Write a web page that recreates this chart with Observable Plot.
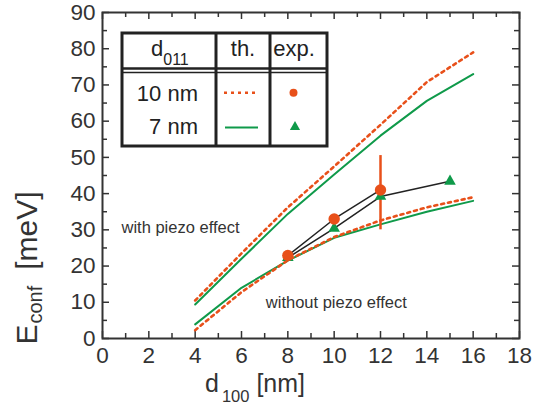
<!DOCTYPE html>
<html><head><meta charset="utf-8">
<script src="https://cdn.jsdelivr.net/npm/d3@7"></script>
<script src="https://cdn.jsdelivr.net/npm/@observablehq/plot@0.6"></script>
<style>
body{margin:0;background:#fff;}
#wrap{position:relative;width:553px;height:407px;font-family:"Liberation Sans",Arial,sans-serif;}
#legend{position:absolute;left:0;top:0;pointer-events:none;}
</style></head><body><div id="wrap"></div>
<script>
// ---- data ----
const dTheory = [4, 6, 8, 10, 12, 14, 16];
const withPiezo10nm = [10.5, 23.5, 36.2, 47.5, 59, 70.8, 79];
const withPiezo7nm  = [9.4, 22, 34.4, 45.3, 56, 65.6, 73];
const noPiezo10nm   = [2.3, 12.8, 21.6, 28, 32.6, 36.2, 39];
const noPiezo7nm    = [3.9, 14, 21.5, 27.8, 31.5, 35, 38];

const expD10nm = [8, 10, 12];
const expE10nm = [22.9, 33.0, 41.0];
const errD = [12];
const errLow = [30];
const errHigh = [50.5];

const expD7nm = [8, 10, 12, 15];
const expE7nm = [22.3, 30.4, 39.2, 43.4];

const xMajorTicks = [0, 2, 4, 6, 8, 10, 12, 14, 16, 18];
const xMinorTicks = [1, 3, 5, 7, 9, 11, 13, 15, 17];
const yMajorTicks = [0, 10, 20, 30, 40, 50, 60, 70, 80, 90];
const yMinorTicks = [5, 15, 25, 35, 45, 55, 65, 75, 85];

const annotationText = ["with piezo effect", "without piezo effect"];
const annotationD = [0.82, 7.05];
const annotationE = [30.6, 9.75];

// ---- build tables ----
const pts = (xs, ys) => xs.map((x, i) => ({x, y: ys[i]}));
const upper10 = pts(dTheory, withPiezo10nm);
const upper7 = pts(dTheory, withPiezo7nm);
const lower10 = pts(dTheory, noPiezo10nm);
const lower7 = pts(dTheory, noPiezo7nm);
const exp10 = pts(expD10nm, expE10nm);
const exp7 = pts(expD7nm, expE7nm);
const errs = errD.map((x, i) => ({x, y1: errLow[i], y2: errHigh[i]}));
const notes = annotationText.map((t, i) => ({t, x: annotationD[i], y: annotationE[i]}));

const ORANGE = "#e8501a";
const GREEN = "#0f9a4a";
const INK = "#333";
const FONT = "Liberation Sans, Arial, Helvetica, sans-serif";

const W = 553, H = 407, mL = 102, mR = 34, mT = 12, mB = 69;
const iw = W - mL - mR, ih = H - mT - mB;

const chart = Plot.plot({
  width: W, height: H,
  marginLeft: mL, marginRight: mR, marginTop: mT, marginBottom: mB,
  style: {fontFamily: FONT, background: "#fff", color: INK, overflow: "visible"},
  x: {domain: [0, 18]},
  y: {domain: [0, 90]},
  marks: [
    Plot.axisX(xMajorTicks, {tickSize: 0, tickPadding: 9, fontSize: 22.5, fill: INK, label: null}),
    Plot.axisY(yMajorTicks, {tickSize: 0, tickPadding: 7, fontSize: 22.5, fill: INK, label: null}),
    // inward ticks: bottom / top
    Plot.tickX(xMajorTicks, {x: d => d, insetTop: ih - 7, stroke: INK, strokeWidth: 1.5}),
    Plot.tickX(xMinorTicks, {x: d => d, insetTop: ih - 5, stroke: INK, strokeWidth: 1.5}),
    Plot.tickX(xMajorTicks, {x: d => d, insetBottom: ih - 7, stroke: INK, strokeWidth: 1.5}),
    Plot.tickX(xMinorTicks, {x: d => d, insetBottom: ih - 5, stroke: INK, strokeWidth: 1.5}),
    // inward ticks: left / right
    Plot.tickY(yMajorTicks, {y: d => d, insetRight: iw - 7, stroke: INK, strokeWidth: 1.5}),
    Plot.tickY(yMinorTicks, {y: d => d, insetRight: iw - 5, stroke: INK, strokeWidth: 1.5}),
    Plot.tickY(yMajorTicks, {y: d => d, insetLeft: iw - 7, stroke: INK, strokeWidth: 1.5}),
    Plot.tickY(yMinorTicks, {y: d => d, insetLeft: iw - 5, stroke: INK, strokeWidth: 1.5}),
    Plot.frame({stroke: INK, strokeWidth: 2}),
    // theory curves
    Plot.line(upper7, {x: "x", y: "y", stroke: GREEN, strokeWidth: 2}),
    Plot.line(lower7, {x: "x", y: "y", stroke: GREEN, strokeWidth: 2}),
    Plot.line(upper10, {x: "x", y: "y", stroke: ORANGE, strokeWidth: 2.6, strokeDasharray: "3,4"}),
    Plot.line(lower10, {x: "x", y: "y", stroke: ORANGE, strokeWidth: 2.6, strokeDasharray: "3,4"}),
    // experiment
    Plot.line(exp7, {x: "x", y: "y", stroke: "#222", strokeWidth: 1.5}),
    Plot.line(exp10, {x: "x", y: "y", stroke: "#222", strokeWidth: 1.5}),
    Plot.ruleX(errs, {x: "x", y1: "y1", y2: "y2", stroke: ORANGE, strokeWidth: 2.5}),
    Plot.dot(exp7, {x: "x", y: "y", symbol: "triangle", r: 4.3, fill: GREEN, stroke: "none"}),
    Plot.dot(exp10, {x: "x", y: "y", r: 5.7, fill: ORANGE, stroke: "none"}),
    // annotations
    Plot.text(notes, {x: "x", y: "y", text: "t", textAnchor: "start", fontSize: 16.5, fill: INK})
  ]
});

document.getElementById("wrap").appendChild(chart);

// axis titles
const svg = d3.select(chart);
const yl = svg.append("text")
  .attr("transform", "translate(37,268) rotate(-90)")
  .attr("fill", INK).attr("font-size", 30).attr("font-family", FONT);
yl.append("tspan").text("E");
yl.append("tspan").attr("font-size", 20).attr("dy", 5).attr("dx", 1).text("conf");
yl.append("tspan").attr("dy", -5).attr("dx", 16).text("[meV]");

const xl = svg.append("text")
  .attr("x", 255).attr("y", 392)
  .attr("fill", INK).attr("font-size", 25).attr("font-family", FONT);
xl.append("tspan").text("d");
xl.append("tspan").attr("font-size", 16.5).attr("dy", 10).attr("dx", 3).text("100");
xl.append("tspan").attr("dy", -10).attr("dx", 7).text("[nm]");

// legend table (overlay)
const lg = d3.select("#wrap").append("svg").attr("id", "legend")
  .attr("width", W).attr("height", H).attr("font-family", FONT);
const LX = 122, LY = 33, LW = 205, LH = 113, C1 = 216, C2 = 270;
lg.append("rect").attr("x", LX).attr("y", LY).attr("width", LW).attr("height", LH)
  .attr("fill", "#fff").attr("stroke", "#222").attr("stroke-width", 3);
[C1, C2].forEach(cx => lg.append("line").attr("x1", cx).attr("x2", cx).attr("y1", LY).attr("y2", LY + LH)
  .attr("stroke", "#222").attr("stroke-width", 3));
lg.append("line").attr("x1", LX).attr("x2", LX + LW).attr("y1", 68.5).attr("y2", 68.5)
  .attr("stroke", "#222").attr("stroke-width", 2.5);
lg.append("line").attr("x1", LX).attr("x2", LX + LW).attr("y1", 72.5).attr("y2", 72.5)
  .attr("stroke", "#222").attr("stroke-width", 1.5);
const hd = lg.append("text").attr("x", 151).attr("y", 56).attr("font-size", 22).attr("fill", "#222");
hd.append("tspan").text("d");
hd.append("tspan").attr("font-size", 16).attr("dy", 9).text("011");
lg.append("text").attr("x", 243).attr("y", 56).attr("text-anchor", "middle").attr("font-size", 22).attr("fill", "#222").text("th.");
lg.append("text").attr("x", 294).attr("y", 56).attr("text-anchor", "middle").attr("font-size", 22).attr("fill", "#222").text("exp.");
lg.append("text").attr("x", 198).attr("y", 101).attr("text-anchor", "end").attr("font-size", 22).attr("fill", "#222").text("10 nm");
lg.append("text").attr("x", 198).attr("y", 134).attr("text-anchor", "end").attr("font-size", 22).attr("fill", "#222").text("7 nm");
lg.append("line").attr("x1", 224).attr("x2", 257).attr("y1", 92.7).attr("y2", 92.7)
  .attr("stroke", ORANGE).attr("stroke-width", 2.6).attr("stroke-dasharray", "3,4");
lg.append("line").attr("x1", 225).attr("x2", 258).attr("y1", 127.5).attr("y2", 127.5)
  .attr("stroke", GREEN).attr("stroke-width", 2);
lg.append("circle").attr("cx", 293.5).attr("cy", 92.7).attr("r", 4).attr("fill", ORANGE);
lg.append("path").attr("transform", "translate(295,127)")
  .attr("d", d3.symbol(d3.symbolTriangle, 45)()).attr("fill", GREEN);
</script></body></html>
